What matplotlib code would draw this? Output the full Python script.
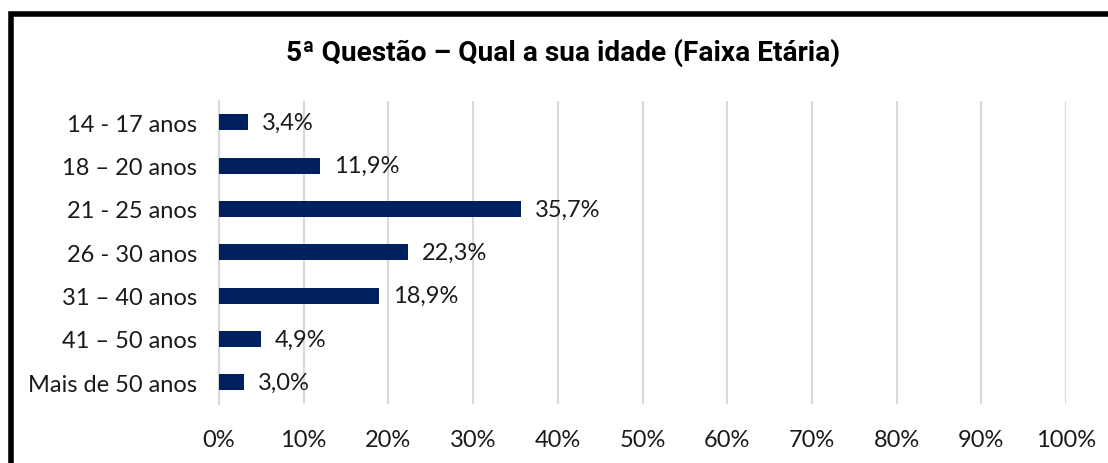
import matplotlib
matplotlib.use("Agg")
import matplotlib.pyplot as plt
from matplotlib.patches import Rectangle
from matplotlib.ticker import PercentFormatter

categories = ["14 - 17 anos", "18 – 20 anos", "21 - 25 anos", "26 - 30 anos",
              "31 – 40 anos", "41 – 50 anos", "Mais de 50 anos"]
values = [3.4, 11.9, 35.7, 22.3, 18.9, 4.9, 3.0]
value_labels = ["3,4%", "11,9%", "35,7%", "22,3%", "18,9%", "4,9%", "3,0%"]
title = "5ª Questão – Qual a sua idade (Faixa Etária)"

W, H = 1108, 464
fig = plt.figure(figsize=(W / 100, H / 100), dpi=100)
fig.patch.set_facecolor("white")

ax = fig.add_axes([219 / W, 1 - 405 / H, (1066 - 219) / W, (405 - 101.5) / H])

ypos = list(range(len(categories)))
ax.barh(ypos, values, height=0.37, color="#002060", zorder=3)
ax.set_ylim(len(categories) - 0.5, -0.5)
ax.set_xlim(0, 100)
ax.set_yticks(ypos)
ax.set_yticklabels(categories)
ax.set_xticks(range(0, 101, 10))
ax.xaxis.set_major_formatter(PercentFormatter(decimals=0))

lab_font = dict(family=["Lato", "DejaVu Sans"], size=17, color="#1a1a1a")
for y, v, lab in zip(ypos, values, value_labels):
    ax.annotate(lab, (v, y), xytext=(14, 0), textcoords="offset pixels",
                va="center", ha="left", **lab_font)

for lbl in ax.get_yticklabels() + ax.get_xticklabels():
    lbl.set_family(["Lato", "DejaVu Sans"])
    lbl.set_fontsize(17)
    lbl.set_color("#1a1a1a")

ax.tick_params(axis="y", length=0, pad=16)
ax.tick_params(axis="x", length=0, pad=18)
ax.grid(axis="x", color="#d9d9d9", linewidth=1.5, zorder=0)
for s in ["top", "right", "bottom"]:
    ax.spines[s].set_visible(False)
ax.spines["left"].set_color("#d9d9d9")
ax.spines["left"].set_linewidth(1.5)

fig.text(563 / W, 1 - 53 / H, title, ha="center", va="center",
         family=["Roboto", "DejaVu Sans"], fontweight="bold",
         fontsize=20.2, color="black")

border = Rectangle((10.5 / W, -0.2), 1.2, 1 - 15 / H + 0.2, transform=fig.transFigure,
                   fill=False, edgecolor="black", linewidth=4, clip_on=False)
fig.patches.append(border)

fig.savefig("out.png", dpi=100)
